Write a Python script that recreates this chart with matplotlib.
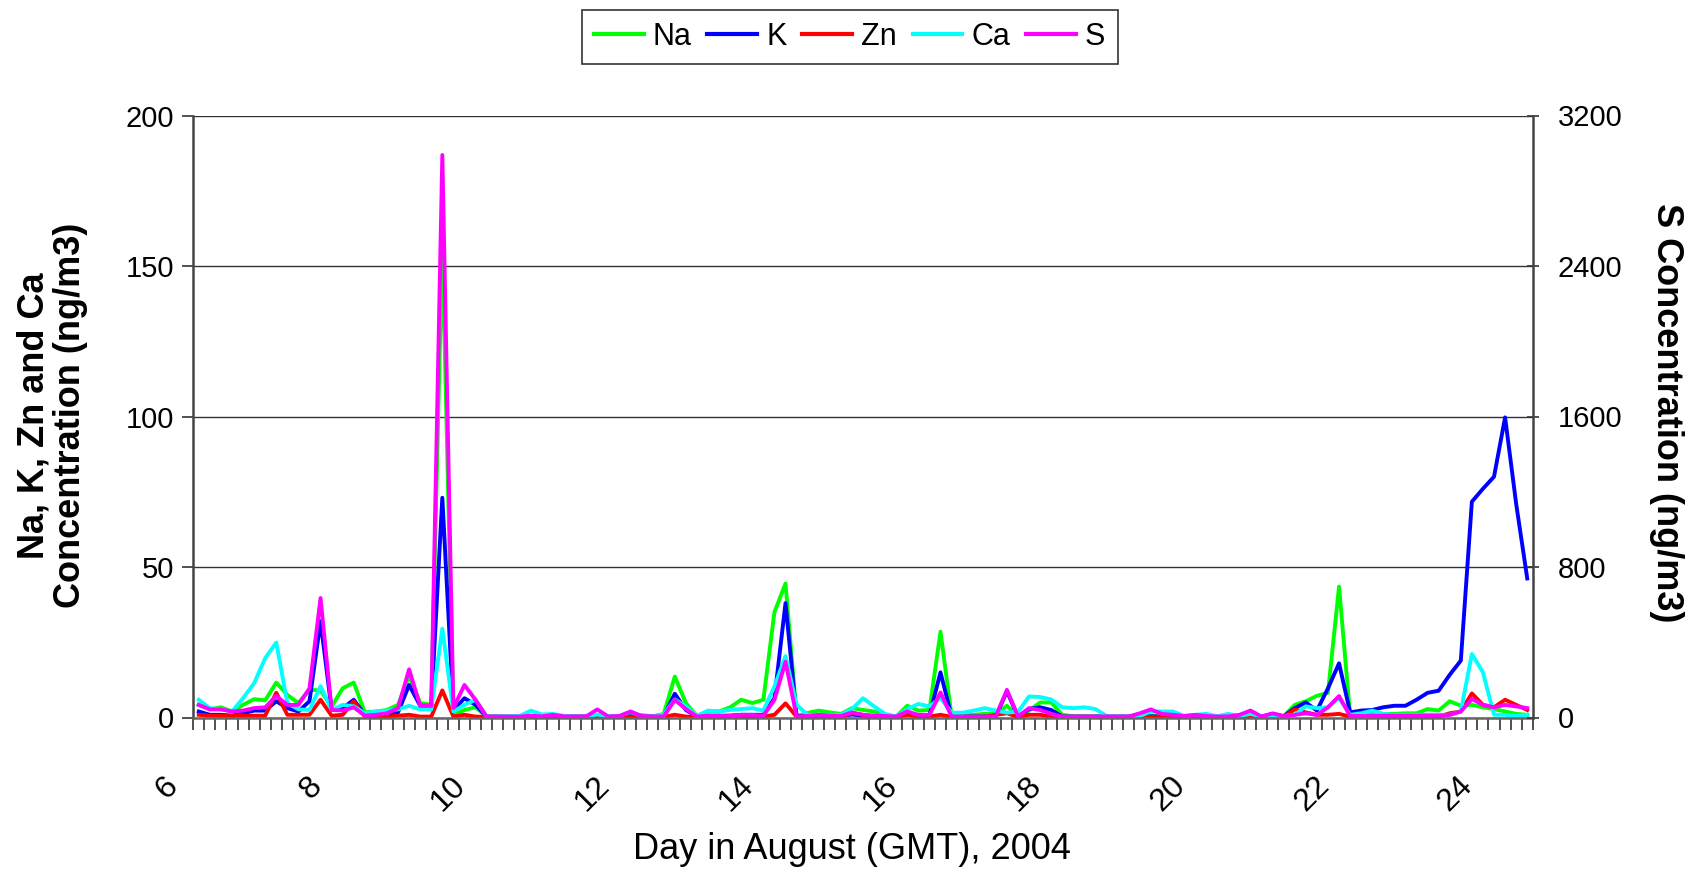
import numpy as np
import matplotlib
matplotlib.use('Agg')
import matplotlib.pyplot as plt
import matplotlib.transforms as mtransforms

plt.rcParams['font.family'] = ['Liberation Sans', 'DejaVu Sans']

# samples in chronological order (category axis, one label every 13 samples)
na = [4.2, 2.7, 3.4, 2.0, 4.2, 6.1, 5.7, 11.6, 7.5, 4.8, 9.2, 9.0, 3.6, 9.7, 11.6, 1.7, 2.0, 2.5, 4.2, 14.0,
      4.8, 4.2, 157, 0.9, 2.5, 3.4, 0.3, 0.3, 0.3, 0.3, 0.5, 0.4, 0.4, 0.4, 0.4, 0.4, 0.5, 0.3, 0.5, 0.6,
      0.8, 0.4, 1.2, 13.6, 4.8, 0.5, 2.0, 2.0, 3.4, 5.9, 4.8, 5.9, 35.0, 44.5, 0.5, 1.5, 2.3, 1.7, 1.2, 3.1,
      2.5, 2.0, 0.9, 0.3, 3.9, 2.3, 2.5, 28.5, 0.5, 0.6, 0.9, 1.2, 1.2, 3.9, 0.3, 2.3, 5.0, 5.0, 0.9, 0.4,
      0.4, 0.4, 0.3, 0.3, 0.3, 1.2, 0.6, 0.4, 0.4, 0.3, 0.4, 0.4, 0.3, 0.4, 0.4, 0.5, 0.3, 0.5, 0.4, 4.2,
      5.4, 7.2, 8.2, 43.5, 0.9, 0.9, 1.2, 1.2, 1.2, 1.4, 1.4, 2.8, 2.3, 5.4, 3.9, 4.2, 3.4, 2.8, 2.0, 1.2,
      0.9]
k = [2.0, 0.9, 0.9, 0.6, 1.4, 2.3, 2.3, 5.4, 3.1, 2.0, 5.4, 32.0, 2.5, 3.1, 5.9, 0.9, 0.9, 1.2, 1.7, 10.8,
     3.9, 3.9, 73.0, 2.5, 6.4, 4.2, 0.3, 0.3, 0.3, 0.3, 0.3, 0.3, 0.3, 0.3, 0.3, 0.3, 0.4, 0.3, 0.3, 0.4,
     0.3, 0.3, 0.5, 7.9, 2.5, 0.3, 0.5, 0.5, 0.6, 0.9, 0.9, 0.9, 6.4, 38.0, 0.4, 0.4, 0.5, 0.4, 0.4, 1.0,
     0.6, 0.5, 0.3, 0.3, 1.2, 0.6, 0.6, 15.0, 0.3, 0.3, 0.3, 0.3, 0.3, 8.7, 0.3, 2.8, 3.4, 2.5, 0.3, 0.3,
     0.3, 0.3, 0.3, 0.3, 0.3, 0.4, 0.4, 0.3, 0.3, 0.3, 0.3, 0.3, 0.3, 0.3, 0.3, 0.3, 0.3, 1.2, 0.4, 3.1,
     5.0, 2.3, 9.7, 18.0, 1.7, 2.3, 2.5, 3.4, 3.9, 3.9, 5.9, 8.2, 8.9, 14.2, 18.9, 71.7, 76.0, 80.0, 99.7, 71.0,
     46.2]
zn = [0.9, 0.6, 0.6, 0.6, 0.6, 0.6, 0.6, 8.2, 0.9, 0.9, 0.9, 5.9, 0.6, 0.9, 5.4, 0.3, 0.3, 0.3, 0.6, 0.9,
      0.3, 0.3, 9.0, 0.3, 0.9, 0.3, 0.2, 0.2, 0.2, 0.2, 0.2, 0.2, 0.2, 0.2, 0.2, 0.2, 0.2, 0.2, 0.2, 0.2,
      0.2, 0.2, 0.2, 0.9, 0.3, 0.2, 0.3, 0.3, 0.3, 0.3, 0.3, 0.3, 0.9, 4.7, 0.3, 0.3, 0.3, 0.3, 0.3, 1.4,
      0.9, 0.3, 0.2, 0.2, 0.9, 0.3, 0.3, 0.9, 0.2, 0.2, 0.2, 0.2, 0.9, 1.4, 0.2, 0.9, 0.9, 0.3, 0.2, 0.2,
      0.2, 0.2, 0.2, 0.2, 0.2, 0.2, 0.2, 0.2, 0.2, 0.2, 0.2, 0.2, 0.2, 0.2, 0.2, 0.2, 0.2, 0.2, 0.2, 2.7,
      1.7, 0.9, 0.9, 1.2, 0.3, 0.3, 0.3, 0.3, 0.3, 0.3, 0.3, 0.3, 0.3, 1.4, 2.0, 8.0, 4.2, 3.4, 5.9, 4.2,
      2.5]
ca = [5.9, 3.1, 2.7, 2.0, 6.4, 11.4, 19.7, 24.9, 4.8, 2.7, 2.5, 10.4, 2.5, 4.2, 3.7, 1.4, 2.0, 2.3, 2.7, 3.9,
      2.7, 2.7, 29.5, 2.0, 4.2, 5.9, 0.3, 0.3, 0.5, 0.5, 2.3, 1.0, 1.2, 0.5, 0.4, 0.4, 1.0, 0.4, 0.5, 1.9,
      0.5, 0.4, 1.0, 6.0, 3.7, 0.5, 2.3, 2.0, 2.5, 2.8, 3.1, 2.3, 10.3, 20.4, 4.2, 0.9, 0.9, 0.9, 0.9, 2.8,
      6.4, 3.7, 1.2, 0.3, 2.8, 4.5, 3.7, 6.5, 1.6, 1.6, 2.3, 3.1, 2.3, 1.6, 1.9, 7.0, 6.8, 6.0, 3.4, 3.1,
      3.4, 2.8, 0.5, 0.3, 0.3, 0.5, 2.0, 2.0, 2.0, 0.5, 0.9, 1.2, 0.4, 1.2, 0.5, 1.2, 0.4, 0.5, 0.5, 0.9,
      3.7, 3.1, 3.4, 6.5, 0.9, 1.4, 2.3, 1.2, 0.9, 0.9, 0.9, 0.9, 0.9, 0.9, 2.0, 21.1, 15.0, 0.9, 0.9, 0.5,
      0.9]
s = [67, 43, 43, 32, 37, 50, 54, 115, 67, 67, 155, 635, 40, 37, 54, 10, 14, 22, 50, 256,
     62, 62, 2990, 50, 173, 94, 5, 5, 5, 5, 10, 6, 14, 6, 6, 6, 43, 5, 8, 32,
     8, 6, 6, 93, 45, 5, 10, 10, 10, 14, 14, 10, 94, 296, 5, 8, 14, 10, 8, 27,
     14, 10, 8, 5, 32, 14, 14, 133, 5, 5, 5, 5, 6, 147, 5, 50, 40, 19, 5, 5,
     5, 5, 6, 5, 5, 22, 43, 19, 14, 8, 14, 8, 5, 6, 14, 37, 5, 22, 8, 14,
     22, 14, 54, 114, 8, 8, 8, 10, 10, 10, 10, 10, 10, 14, 32, 98, 67, 54, 67, 59,
     50]
day_labels = ['6', '8', '10', '12', '14', '16', '18', '20', '22', '24']
label_every = 13

x = np.arange(len(na))

fig = plt.figure(figsize=(17.01, 8.75), dpi=100)
ax = fig.add_axes([0.1136, 0.18, 0.7875, 0.688])
ax2 = ax.twinx()

lw = 2.8
l1, = ax.plot(x, na, color='#00FF00', lw=lw, label='Na')
l2, = ax.plot(x, k, color='#0000FF', lw=lw, label='K')
l3, = ax.plot(x, zn, color='#FF0000', lw=lw, label='Zn')
l4, = ax.plot(x, ca, color='#00FFFF', lw=lw, label='Ca')
l5, = ax2.plot(x, s, color='#FF00FF', lw=lw, label='S')

ax.set_xlim(-0.5, len(na) - 0.5)
ax.set_ylim(0, 200)
ax2.set_ylim(0, 3200)
ax.set_yticks([0, 50, 100, 150, 200])
ax2.set_yticks([0, 800, 1600, 2400, 3200])

ax.yaxis.grid(True, color='#333333', lw=1.0)
ax.set_axisbelow(True)

for a in (ax, ax2):
    a.spines['top'].set_visible(False)
ax.spines['right'].set_visible(False)
ax.spines['left'].set_color('#444444')
ax.spines['left'].set_linewidth(1.8)
ax.spines['bottom'].set_color('#666666')
ax.spines['bottom'].set_linewidth(1.8)
ax2.spines['left'].set_visible(False)
ax2.spines['bottom'].set_visible(False)
ax2.spines['right'].set_color('#444444')
ax2.spines['right'].set_linewidth(1.8)

# x ticks: minor marks at category boundaries, labels every 13 samples
ax.set_xticks(np.arange(-0.5, len(na)), minor=True)
ax.set_xticks(x[::label_every])
ax.set_xticklabels(day_labels, rotation=45, ha='right', va='center', rotation_mode='anchor')
ax.tick_params(axis='x', which='minor', length=8.5, width=1.2, color='#333333', direction='out')
ax.tick_params(axis='x', which='major', length=0, pad=46, labelsize=23)
offset = mtransforms.ScaledTranslation(-18.4 / 72, 0, fig.dpi_scale_trans)
for lab in ax.get_xticklabels():
    lab.set_transform(lab.get_transform() + offset)

ax.tick_params(axis='y', length=8, width=1.2, color='#333333', labelsize=21, pad=6)
ax2.tick_params(axis='y', length=8, width=1.2, color='#333333', labelsize=21, pad=14, direction='inout')

ax.set_ylabel('Na, K, Zn and Ca\nConcentration (ng/m3)', fontsize=26, fontweight='bold',
              linespacing=1.05, va='center')
ax.yaxis.set_label_coords(-0.1055, 0.502)
ax2.set_ylabel('S Concentration (ng/m3)', fontsize=26, fontweight='bold', rotation=-90, va='center')
ax2.yaxis.set_label_coords(1.100, 0.507)

fig.text(0.5006, 0.0297, 'Day in August (GMT), 2004', fontsize=26, ha='center', va='center')

leg = fig.legend(handles=[l1, l2, l3, l4, l5], loc='center', bbox_to_anchor=(0.4995, 0.958), ncol=5,
                 fontsize=22, frameon=True, fancybox=False, edgecolor='black', handlelength=1.63,
                 handletextpad=0.3, columnspacing=0.51, borderpad=0.4)
leg.get_frame().set_linewidth(1.2)
for h in leg.get_lines():
    h.set_linewidth(3)

fig.savefig('out.png', dpi=100)
